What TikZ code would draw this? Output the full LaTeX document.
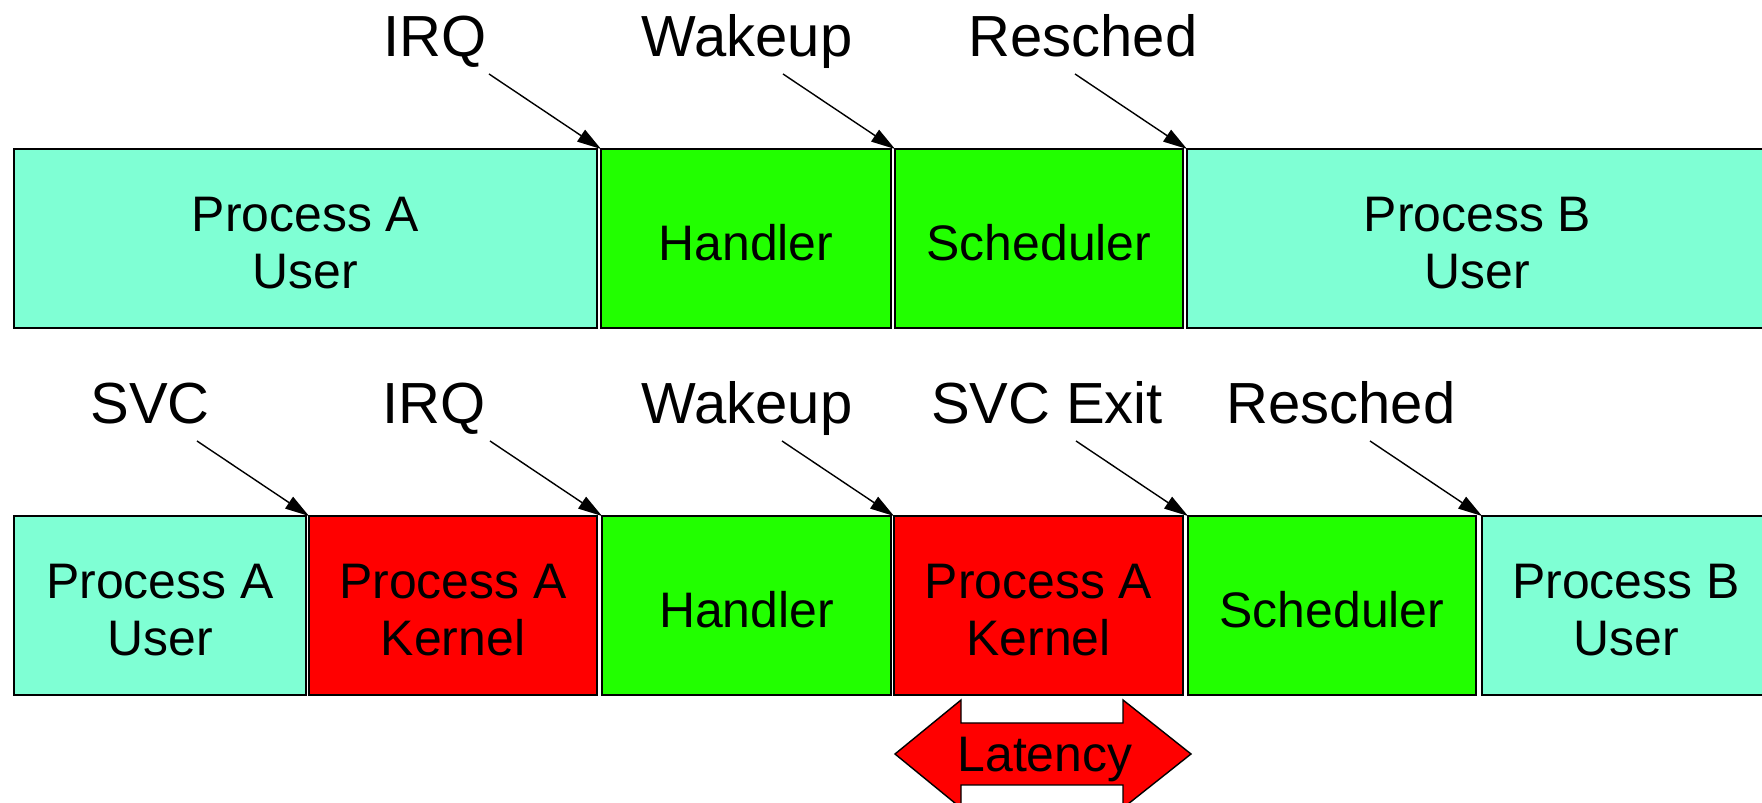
\documentclass[tikz,border=0pt]{standalone}
\usepackage{fontspec}
\setmainfont{Liberation Sans}
\usetikzlibrary{arrows.meta}
\definecolor{UserClr}{RGB}{127,255,212}
\definecolor{HandlerClr}{RGB}{34,255,0}
\definecolor{KernelClr}{RGB}{255,0,0}
\newcommand{\slicefont}{\fontsize{14.2pt}{16.2pt}\selectfont}
\newcommand{\eventfont}{\fontsize{16.5pt}{19pt}\selectfont}

\begin{document}
\begin{tikzpicture}[x=0.1mm,y=-0.1mm,
  slice/.style={draw,line width=0.5pt,inner sep=0pt,outer sep=0pt,
    anchor=north west,minimum height=17.9mm,align=center,font=\slicefont},
  user/.style={slice,fill=UserClr,text height=10.1mm},
  kern/.style={slice,fill=KernelClr,text height=10.1mm},
  irq/.style={slice,fill=HandlerClr,text height=4.4mm},
  event/.style={anchor=base,inner sep=0pt,font=\eventfont},
  ptr/.style={-{Triangle[length=2.4mm,width=1.4mm]},line width=0.4pt}]
\useasboundingbox (0,0) rectangle (1762,803);
\clip (0,0) rectangle (1762,803);

% no preemption in the kernel
\node[user,minimum width=58.3mm] (pauA) at (14,149)  {Process A\\User};
\node[irq,minimum width=29.0mm]  (hdlA) at (601,149) {Handler};
\node[irq,minimum width=28.8mm]  (schA) at (895,149) {Scheduler};
\node[user,minimum width=58.1mm] (pbuA) at (1187,149) {Process B\\User};

\node[event] (irqA) at (435,57)  {IRQ};
\node[event] (wakA) at (747,57)  {Wakeup};
\node[event] (resA) at (1083,57) {Resched};

% wakeup while process A sits in a system call
\node[user,minimum width=29.2mm] (pauB) at (14,516)   {Process A\\User};
\node[kern,minimum width=28.8mm] (pakB) at (309,516)  {Process A\\Kernel};
\node[irq,minimum width=28.9mm]  (hdlB) at (602,516)  {Handler};
\node[kern,minimum width=28.9mm] (pakC) at (894,516)  {Process A\\Kernel};
\node[irq,minimum width=28.8mm]  (schB) at (1188,516) {Scheduler};
\node[user,minimum width=28.8mm] (pbuB) at (1482,516) {Process B\\User};

\node[event] (svcB) at (150,424)  {SVC};
\node[event] (irqB) at (434,424)  {IRQ};
\node[event] (wakB) at (747,424)  {Wakeup};
\node[event] (sxB)  at (1047,424) {SVC Exit};
\node[event] (resB) at (1341,424) {Resched};

\foreach \b in {hdlA,schA,pbuA,pakB,hdlB,pakC,schB,pbuB}
  \draw[ptr] ([shift={(-112,-75)}]\b.north west) -- (\b.north west);

% latency span
\draw[line width=0.4pt,fill=KernelClr] (895,754) -- (961,700) -- (961,723)
  -- (1123,723) -- (1123,700) -- (1191,754) -- (1123,808) -- (1123,785)
  -- (961,785) -- (961,808) -- cycle;
\node[anchor=base,inner sep=0pt,font=\slicefont] (lat) at (1045,772) {Latency};

\end{tikzpicture}
\end{document}
